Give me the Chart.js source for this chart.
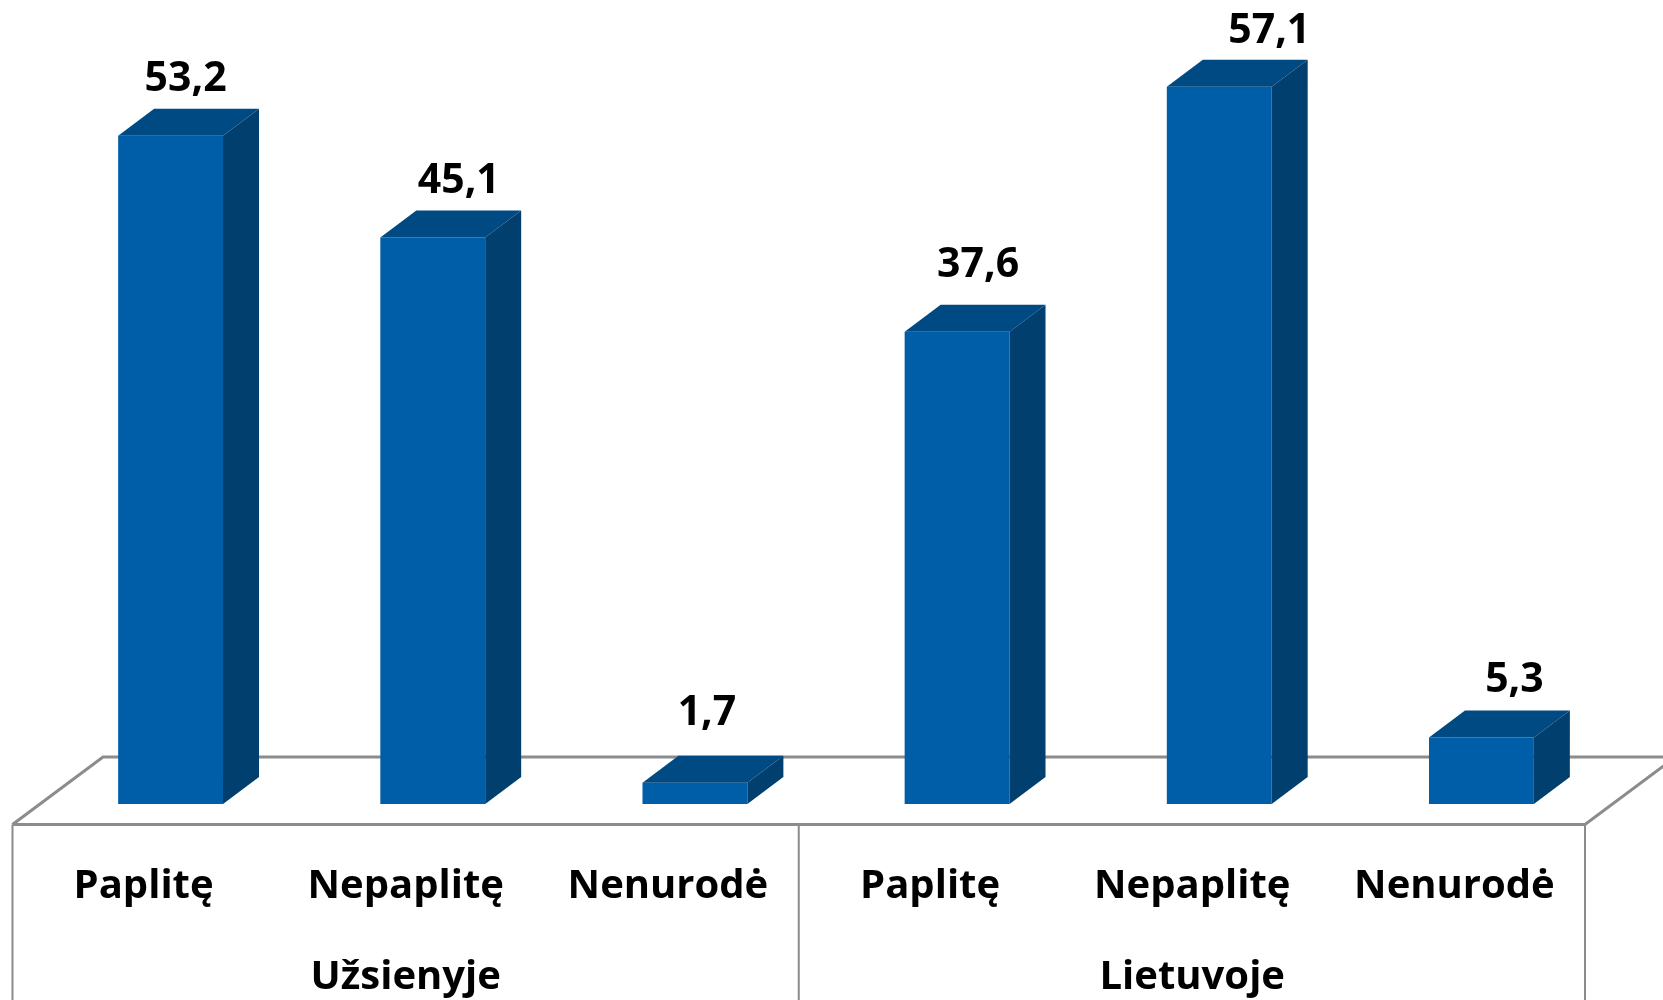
<!DOCTYPE html>
<html>
<head>
<meta charset="utf-8">
<title>Paplitę / Nepaplitę</title>
<script src="https://cdn.jsdelivr.net/npm/chart.js@4"></script>
<style>
  html, body { margin: 0; padding: 0; background: #fff; overflow: hidden; }
  canvas { display: block; }
</style>
</head>
<body>
<canvas id="myChart" width="1663" height="1000"></canvas>
<script>
// Data
const categories = ["Paplitę", "Nepaplitę", "Nenurodė", "Paplitę", "Nepaplitę", "Nenurodė"];
const groups = ["Užsienyje", "Lietuvoje"];
const values = [53.2, 45.1, 1.7, 37.6, 57.1, 5.3];

// Where each value label sits, measured from the bar's back top corner
const labelShiftX = [15, 26, 12, 21, 50, 33];
const labelGapY = [18, 17, 31, 28, 17, 18];

// Colours
const frontColor = "#005EA8";
const topColor = "#004A83";
const sideColor = "#003F6E";
const lineColor = "#8C8C8C";

// Fake 3D depth
const depthX = 36;
const depthY = 27;

const fontFamily = "'Open Sans', sans-serif";
const labelFont = { family: fontFamily, size: 40, weight: "bold" };

// Floor and the separators of the axis table
const drawFloor = {
  id: "drawFloor",
  beforeDatasetsDraw(chart) {
    const ctx = chart.ctx;
    const area = chart.chartArea;
    const w = chart.width;
    const h = chart.height;
    const frontY = area.bottom + 20.5;
    const backY = area.bottom - 47;
    const left = area.left - 27;
    const right = area.right - 27.5;
    const middle = (left + right) / 2;

    ctx.save();
    ctx.strokeStyle = lineColor;
    ctx.lineWidth = 3;
    ctx.beginPath();
    ctx.moveTo(left, frontY);
    ctx.lineTo(right, frontY);
    ctx.lineTo(right + 90.5, backY);
    ctx.moveTo(w, backY);
    ctx.lineTo(left + 90.5, backY);
    ctx.lineTo(left, frontY);
    ctx.stroke();

    ctx.lineWidth = 2;
    ctx.beginPath();
    [left, middle, right].forEach((x) => {
      ctx.moveTo(x, frontY);
      ctx.lineTo(x, h);
    });
    ctx.stroke();
    ctx.restore();
  }
};

// Top and side faces of the bars, then the value labels
const drawBars3d = {
  id: "drawBars3d",
  afterDatasetsDraw(chart) {
    const ctx = chart.ctx;
    const bars = chart.getDatasetMeta(0).data;

    ctx.save();
    bars.forEach((bar, i) => {
      const left = bar.x - bar.width / 2;
      const right = bar.x + bar.width / 2;

      ctx.fillStyle = topColor;
      ctx.beginPath();
      ctx.moveTo(left, bar.y);
      ctx.lineTo(left + depthX, bar.y - depthY);
      ctx.lineTo(right + depthX, bar.y - depthY);
      ctx.lineTo(right, bar.y);
      ctx.closePath();
      ctx.fill();

      ctx.fillStyle = sideColor;
      ctx.beginPath();
      ctx.moveTo(right, bar.y);
      ctx.lineTo(right + depthX, bar.y - depthY);
      ctx.lineTo(right + depthX, bar.base - depthY);
      ctx.lineTo(right, bar.base);
      ctx.closePath();
      ctx.fill();

      ctx.fillStyle = "#000";
      ctx.font = "bold 41px " + fontFamily;
      ctx.textAlign = "center";
      ctx.textBaseline = "alphabetic";
      ctx.fillText(String(values[i]).replace(".", ","), bar.x + labelShiftX[i], bar.y - depthY - labelGapY[i]);
    });
    ctx.restore();
  }
};

const ctx = document.getElementById("myChart").getContext("2d");
const myChart = new Chart(ctx, {
  type: "bar",
  data: {
    labels: categories,
    datasets: [{
      data: values,
      backgroundColor: frontColor,
      borderWidth: 0,
      barPercentage: 0.4,
      categoryPercentage: 1
    }]
  },
  options: {
    responsive: false,
    animation: false,
    layout: { padding: { left: 39.5, right: 50.5, top: 0, bottom: 0 } },
    plugins: { legend: { display: false }, tooltip: { enabled: false } },
    scales: {
      y: { display: false, min: 0, max: 64 },
      x: {
        grid: { display: false },
        border: { display: false },
        ticks: {
          color: "#000",
          font: labelFont,
          padding: 51,
          labelOffset: -27,
          autoSkip: false,
          maxRotation: 0
        },
        afterFit(scale) { scale.height = 116; }
      },
      x2: {
        type: "category",
        position: "bottom",
        labels: groups,
        offset: true,
        grid: { display: false },
        border: { display: false },
        ticks: {
          color: "#000",
          font: labelFont,
          padding: 26,
          labelOffset: -27,
          autoSkip: false,
          maxRotation: 0
        },
        afterFit(scale) { scale.height = 80; }
      }
    }
  },
  plugins: [drawFloor, drawBars3d]
});
</script>
</body>
</html>
